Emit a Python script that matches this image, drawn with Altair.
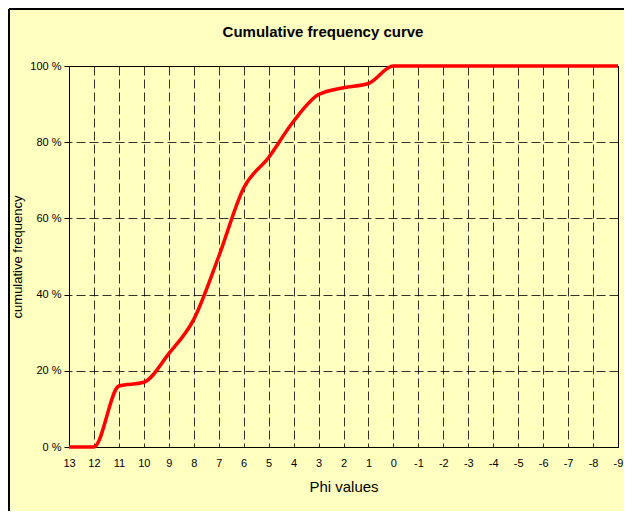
import altair as alt
import pandas as pd

phi = [13, 12, 11, 10, 9, 8, 7, 6, 5, 4, 3, 2, 1, 0, -1, -2, -3, -4, -5, -6, -7, -8, -9]
cum_freq = [0, 0, 16, 17, 24.5, 33.5, 50, 68, 76, 85.5, 92.5, 94.3, 95.4, 100,
            100, 100, 100, 100, 100, 100, 100, 100, 100]
x_ticks = list(range(-9, 14))
y_ticks = [0, 20, 40, 60, 80, 100]
title_text = "Cumulative frequency curve"

df = pd.DataFrame({"phi": phi, "cum": cum_freq})

FONT = "Liberation Sans"
BG = "#FFFFC0"

W, H = 549, 381

x_enc = alt.X(
    "phi:Q",
    scale=alt.Scale(domain=[-9, 13], reverse=True, nice=False, zero=False),
    axis=alt.Axis(
        values=x_ticks, labelExpr="'' + datum.value", title="Phi values",
        ticks=False, labelPadding=10, titlePadding=11,
        grid=True, gridDash=[9, 4], gridColor="#000000", gridWidth=1, gridOpacity=0.8,
        domainColor="#000000", labelFontSize=11, labelColor="#000000",
        titleFontSize=15, titleFontWeight="normal", titleColor="#000000",
        labelFont=FONT, titleFont=FONT, labelFlush=False, labelOverlap=False,
    ),
)
y_enc = alt.Y(
    "cum:Q",
    scale=alt.Scale(domain=[0, 100], nice=False),
    axis=alt.Axis(
        values=y_ticks, labelExpr="datum.value + ' %'", title="cumulative frequency",
        tickSize=5, tickColor="#000000", labelPadding=3, titlePadding=5,
        grid=True, gridDash=[9, 4], gridColor="#000000", gridWidth=1, gridOpacity=0.8,
        domainColor="#000000", labelFontSize=11, labelColor="#000000",
        titleFontSize=13, titleFontWeight="normal", titleColor="#000000",
        labelFont=FONT, titleFont=FONT,
    ),
)

line = alt.Chart(df).mark_line(
    color="#FF0000", strokeWidth=3.5, interpolate="monotone", clip=False
).encode(x=x_enc, y=y_enc)

frame_left = alt.Chart(df).mark_rule(color="#000000", strokeWidth=1.5).encode(
    x=alt.value(-60), y=alt.value(-57), y2=alt.value(H + 70)
)
frame_top = alt.Chart(df).mark_rule(color="#000000", strokeWidth=1.5).encode(
    x=alt.value(-60), x2=alt.value(W + 10), y=alt.value(-57)
)
title = alt.Chart(pd.DataFrame({"t": [title_text]})).mark_text(
    font=FONT, fontSize=15, fontWeight="bold", color="#000000",
    align="center", baseline="middle",
).encode(text="t:N", x=alt.value(254), y=alt.value(-34))

chart = alt.layer(line, frame_left, frame_top, title).properties(
    width=W,
    height=H,
    autosize=alt.AutoSizeParams(type="none"),
    padding={"left": 61, "top": 58, "right": 6, "bottom": 64},
    background=BG,
).configure_view(
    stroke="#000000", strokeWidth=1, fill=BG
)

chart.save("out.html", embed_options={"renderer": "svg", "actions": False})
